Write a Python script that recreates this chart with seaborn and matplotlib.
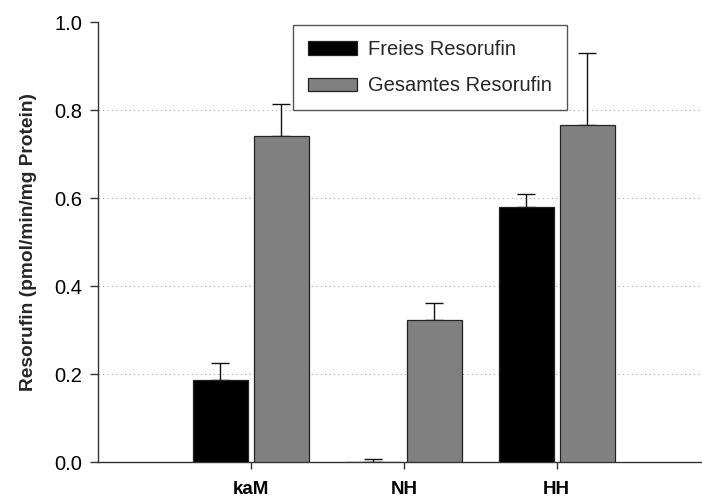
import matplotlib
matplotlib.use("Agg")
import matplotlib.pyplot as plt
import seaborn as sns
import pandas as pd
import numpy as np

categories = ["kaM", "NH", "HH"]
series_names = ["Freies Resorufin", "Gesamtes Resorufin"]
freies = [0.186, 0.0, 0.580]
freies_err = [0.039, 0.007, 0.028]
gesamt = [0.741, 0.323, 0.767]
gesamt_err = [0.073, 0.039, 0.163]
yticks = [0.0, 0.2, 0.4, 0.6, 0.8, 1.0]

df = pd.DataFrame({
    "Gruppe": categories * 2,
    "Serie": [series_names[0]] * 3 + [series_names[1]] * 3,
    "Wert": freies + gesamt,
})

sns.set_theme(style="white")
plt.rcParams["font.family"] = ["Liberation Sans", "DejaVu Sans"]

fig = plt.figure(figsize=(7.02, 4.99), dpi=100)
ax = fig.add_axes([98 / 702, 1 - 462 / 499, 604 / 702, 440 / 499])

sns.barplot(data=df, x="Gruppe", y="Wert", hue="Serie", order=categories,
            hue_order=series_names, palette=["#000000", "#808080"],
            width=0.8, gap=0.1, edgecolor="#222222", linewidth=0.9,
            errorbar=None, ax=ax, zorder=3)

errs = [freies_err, gesamt_err]
for cont, err in zip(ax.containers, errs):
    xs = [p.get_x() + p.get_width() / 2 for p in cont.patches]
    hs = [p.get_height() for p in cont.patches]
    ax.errorbar(xs, hs, yerr=[np.zeros(len(err)), err], fmt="none",
                ecolor="#111111", elinewidth=1.0, capsize=6.5, capthick=1.0,
                zorder=2)

ax.set_xlim(-1, 2.95)
ax.set_ylim(0, 1.0)
ax.set_yticks(yticks)
ax.set_yticklabels([f"{v:.1f}" for v in yticks], fontsize=14.5)
ax.set_xticks(range(len(categories)))
ax.set_xticklabels(categories, fontsize=13.5, fontweight="bold")
ax.set_xlabel("")
ax.set_ylabel("Resorufin (pmol/min/mg Protein)", fontsize=13.8,
              fontweight="bold", labelpad=12)

for s in ["top", "right"]:
    ax.spines[s].set_visible(False)
for s in ["left", "bottom"]:
    ax.spines[s].set_color("#333333")
    ax.spines[s].set_linewidth(1.0)

ax.tick_params(axis="y", which="both", left=True, length=6, width=1,
               color="#333333", pad=5.5, labelcolor="black")
ax.tick_params(axis="x", which="both", bottom=True, length=5, width=1,
               color="#333333", pad=9, labelcolor="black")

ax.yaxis.grid(True, linestyle=(0, (1, 3)), color="#aaaaaa", linewidth=0.8)
ax.xaxis.grid(False)
ax.set_axisbelow(True)
gls = ax.yaxis.get_gridlines()
gls[0].set_visible(False)
gls[-1].set_visible(False)

leg = ax.legend(loc="upper left", bbox_to_anchor=(0.323, 0.993), fontsize=14.5,
                frameon=True, fancybox=False, framealpha=1, edgecolor="#555555",
                handlelength=2.4, handleheight=0.65, handletextpad=0.55,
                labelspacing=0.85, borderpad=0.75, borderaxespad=0, title=None)
leg.get_frame().set_linewidth(1.0)

fig.savefig("out.png", dpi=100)
